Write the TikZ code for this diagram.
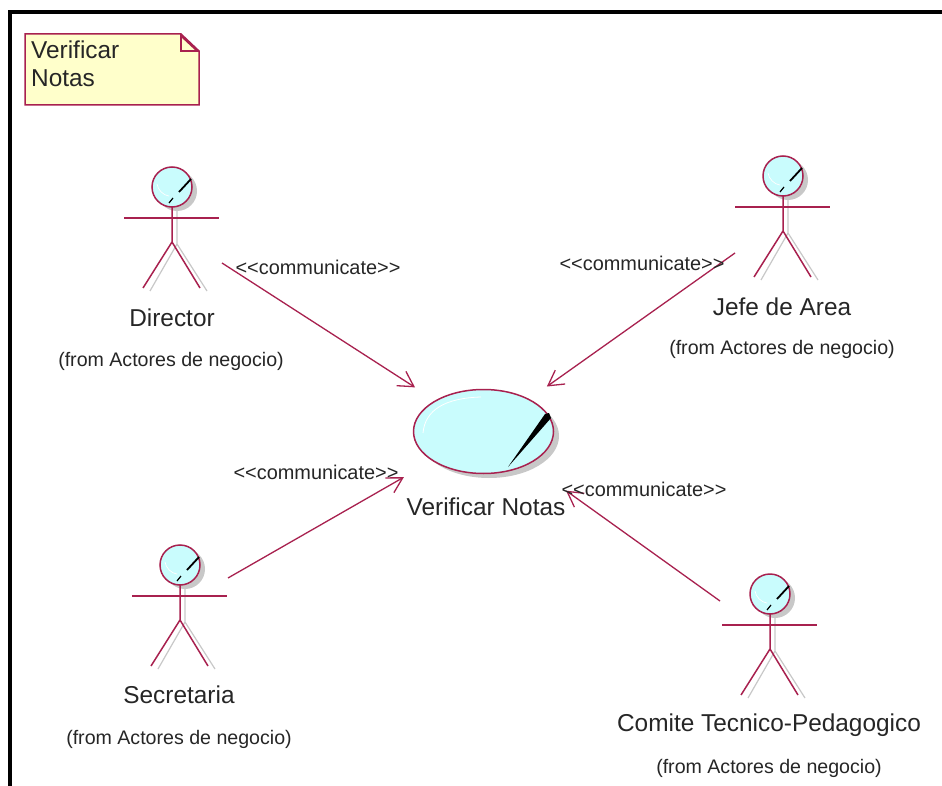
\documentclass[tikz,border=0pt]{standalone}
\usepackage{fontspec}
\setmainfont{Liberation Sans}
\usetikzlibrary{arrows.meta,shapes.geometric}
\definecolor{umlred}{HTML}{A8214F}
\definecolor{umlfill}{HTML}{C9FCFD}
\definecolor{notefill}{HTML}{FFFFCB}
\definecolor{shadowgray}{HTML}{C8C8C8}
\tikzset{
  x=1pt,y=-1pt,
  umlline/.style={draw=umlred,line width=1.5pt},
  shadowline/.style={draw=shadowgray,line width=1.2pt},
  assoc/.style={draw=umlred,line width=1.3pt,-{Straight Barb[length=15pt,width=17pt,line width=1.3pt]}},
  lbl/.style={font=\fontsize{24.4}{28}\selectfont,text=black!85,inner sep=0pt},
  from/.style={font=\fontsize{19.6}{24}\selectfont,text=black!85,inner sep=0pt},
  stereo/.style={font=\fontsize{19.9}{22}\selectfont,text=black!85,inner sep=0pt},
  pics/actor/.style={code={
    \fill[shadowgray] (5,4) circle[radius=20];
    \draw[shadowline] (5,20) -- (5,57) (5,57) -- (-22,104) (5,57) -- (35,104);
    \draw[umlline] (0,20) -- (0,55) (0,55) -- (-29,101) (0,55) -- (28,101);
    \draw[umlline] (-48,31) -- (47,31);
    \draw[umlline,fill=umlfill] (0,0) circle[radius=20];
    \draw[white,line width=0.7pt] (-15,-3) arc[start angle=170,end angle=100,radius=15];
    \draw[black,line width=1.8pt] (19,-8) -- (7,5);
    \draw[black,line width=1.2pt] (1,11) -- (-3,16);
  }}
}
\begin{document}
\begin{tikzpicture}
\useasboundingbox (0,0) rectangle (942,786);
\fill[white] (0,0) rectangle (942,786);
\fill[black] (8,10) rectangle (942,14.5);
\fill[black] (8,10) rectangle (12,786);

% note
\path[umlline,fill=notefill] (25,34) -- (181,34) -- (199,51) -- (199,105) -- (25,105) -- cycle;
\draw[umlline,line width=1.1pt] (181,34) -- (181,51) -- (199,51);
\fill[umlred] (181,34) -- (199,51) -- (196,51) -- (181,37) -- cycle;
\node[lbl,align=left,anchor=north west,font=\fontsize{24.4}{28}\selectfont] (noteText) at (31,41) {Verificar\\Notas};

% use case
\fill[shadowgray] (489,436) ellipse[x radius=70,y radius=42];
\node[umlline,fill=umlfill,ellipse,minimum width=140pt,minimum height=84pt,inner sep=0pt,outer sep=0pt] (uc) at (483.5,431.5) {};
\draw[white,line width=0.8pt] (423,433) .. controls (425,410) and (445,398) .. (481,397);
\fill[black] (549,413) -- (551,418) -- (508,467) -- (545,414) -- cycle;
\node[lbl] (ucLabel) at (486,507) {Verificar Notas};

% actors
\coordinate (dirA) at (172,187);
\coordinate (jefeA) at (783,176);
\coordinate (secA) at (180,565);
\coordinate (comA) at (770,594);
\pic at (dirA) {actor};
\pic at (jefeA) {actor};
\pic at (secA) {actor};
\pic at (comA) {actor};

\node[lbl] (dirName) at (172,318) {Director};
\node[from] (dirFrom) at (171,361) {(from Actores de negocio)};
\node[lbl] (jefeName) at (782,307) {Jefe de Area};
\node[from] (jefeFrom) at (782,349) {(from Actores de negocio)};
\node[lbl] (secName) at (179,695) {Secretaria};
\node[from] (secFrom) at (179,739) {(from Actores de negocio)};
\node[lbl] (comName) at (769,725) {Comite Tecnico-Pedagogico};
\node[from] (comFrom) at (769,768) {(from Actores de negocio)};

% connectors
\coordinate (dirEnd) at (222,263);
\coordinate (jefeEnd) at (735,253);
\coordinate (secEnd) at (228,578);
\coordinate (comEnd) at (720,601);
\draw[assoc,shorten >=24.7pt] (dirEnd) -- (uc);
\draw[assoc,shorten >=22.3pt] (jefeEnd) -- (uc);
\draw[assoc,shorten >=33.5pt] (secEnd) -- (uc);
\draw[assoc,shorten >=46.3pt] (comEnd) -- (uc);

\node[stereo] (s1) at (318,267) {<{}<communicate>{}>};
\node[stereo] (s2) at (642,263) {<{}<communicate>{}>};
\node[stereo] (s3) at (316,472) {<{}<communicate>{}>};
\node[stereo] (s4) at (644,489) {<{}<communicate>{}>};
\end{tikzpicture}
\end{document}
